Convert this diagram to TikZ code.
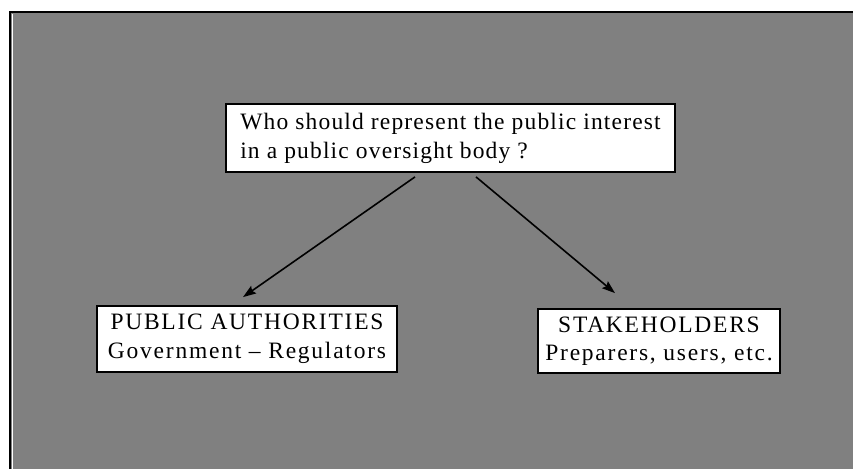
\documentclass[tikz,border=0pt]{standalone}
\usepackage{fontspec}
\setmainfont{Liberation Serif}[LetterSpace=5]
\usetikzlibrary{arrows.meta,calc}
\definecolor{bggray}{HTML}{808080}
\begin{document}
\begin{tikzpicture}[x=1pt,y=-1pt,
  box/.style={draw=black,line width=1.8pt,fill=white,inner xsep=10pt,inner ysep=4pt,
    font=\fontsize{23.5}{29}\selectfont},
  widebox/.style={box,font=\fontsize{23.5}{28.5}\selectfont\addfontfeature{LetterSpace=7.5}},
  arr/.style={-{Stealth[length=13pt,width=9pt,inset=2pt]},line width=1.6pt}]
\useasboundingbox (0,0) rectangle (853,468);
\fill[white] (0,0) rectangle (853,468);
\begin{scope}
  \clip (0,0) rectangle (853,468);
  \draw[line width=2pt,fill=bggray] (10,12) rectangle (870,490);
  \draw[white,line width=1pt] (12.5,14) -- (12.5,470);
\end{scope}
\node[box,align=left,minimum width=449pt,minimum height=68pt] (top) at (450.5,138)
  {Who should represent the public interest\\in a public oversight body ?};
\node[widebox,align=center,minimum width=300pt,minimum height=66pt] (pa) at (247,339)
  {PUBLIC AUTHORITIES\\Government -- Regulators};
\node[widebox,align=center,inner xsep=7pt,minimum width=242pt,minimum height=64pt] (sh) at (659,341)
  {STAKEHOLDERS\\Preparers, users, etc.};
\draw[arr] ([xshift=-35.5pt,yshift=-4pt]top.south) -- ([xshift=-4pt,yshift=8pt]pa.north);
\draw[arr] ([xshift=25.5pt,yshift=-4pt]top.south) -- ([xshift=-44pt,yshift=15pt]sh.north);
\end{tikzpicture}
\end{document}
